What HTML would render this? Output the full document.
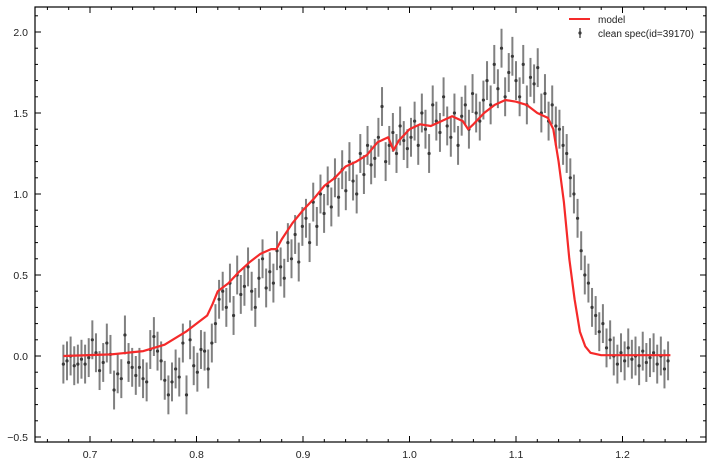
<!DOCTYPE html>
<html><head><meta charset="utf-8"><style>
html,body{margin:0;padding:0;background:#fff;}
svg{display:block;font-family:"Liberation Sans","DejaVu Sans",sans-serif;}
</style></head><body>
<svg id="chart" width="710" height="465"></svg>
<script>
const specValues = [
-0.05,-0.03,0.0,-0.06,-0.05,-0.02,-0.05,-0.01,0.1,0.02,-0.09,-0.04,0.08,0.01,-0.21,-0.11,-0.14,0.13,-0.04,-0.07,-0.12,-0.07,-0.14,-0.16,0.04,0.12,0.03,-0.03,-0.15,-0.24,-0.16,
-0.08,-0.13,0.08,-0.24,0.1,-0.06,-0.1,0.04,0.03,-0.08,0.08,0.2,
0.35,0.4,0.3,0.45,0.25,0.5,0.38,0.43,0.55,0.4,0.3,0.48,0.6,0.42,0.52,0.45,0.65,0.55,0.48,0.7,0.6,0.75,0.58,0.8,
0.85,0.7,0.95,0.8,1.0,0.88,1.05,0.92,1.1,0.98,1.15,1.02,1.2,1.08,1.0,1.25,1.12,1.3,1.18,1.22,1.35,1.54,1.2,1.3,1.38,1.25,1.42,1.33,1.28,
1.35,1.45,1.3,1.5,1.4,1.25,1.55,1.45,1.38,1.6,1.42,1.35,1.5,1.3,1.48,1.55,1.4,1.62,1.5,1.45,1.58,
1.7,1.55,1.8,1.65,1.9,1.6,1.75,1.85,1.7,1.6,1.8,1.55,1.72,1.68,1.78,1.5,1.62,1.45,1.55,
1.42,1.4,1.3,1.25,1.1,1.0,0.85,0.65,0.5,0.45,0.3,0.25,0.15,0.2,0.05,0.1,
0.0,-0.05,0.02,-0.03,0.05,-0.02,0.0,-0.06,0.03,-0.04,-0.01,0.02,-0.05,0.0,-0.08,-0.03];
const specStart = 0.675, specStep = 0.0034, specErr = 0.12;
const modelX = [0.675,0.72,0.75,0.77,0.79,0.80,0.81,0.815,0.82,0.83,0.84,0.85,0.86,0.87,0.875,0.88,0.89,0.9,0.91,0.92,0.93,0.94,0.95,0.96,0.97,0.98,0.985,0.99,1.0,1.01,1.02,1.03,1.04,1.05,1.055,1.06,1.07,1.08,1.09,1.1,1.11,1.12,1.13,1.135,1.14,1.145,1.15,1.155,1.16,1.165,1.17,1.18,1.245];
const modelY = [0,0.01,0.03,0.07,0.15,0.2,0.25,0.32,0.4,0.45,0.52,0.58,0.63,0.66,0.66,0.72,0.82,0.9,0.97,1.05,1.1,1.17,1.2,1.24,1.32,1.35,1.27,1.33,1.4,1.43,1.42,1.45,1.48,1.45,1.4,1.43,1.5,1.55,1.58,1.57,1.55,1.5,1.47,1.4,1.2,0.95,0.6,0.35,0.15,0.06,0.02,0.005,0.005];
const xTicks = [0.7,0.8,0.9,1.0,1.1,1.2];
const yTicks = [-0.5,0.0,0.5,1.0,1.5,2.0];

const NS="http://www.w3.org/2000/svg";
const svg=document.getElementById('chart');
const L=35,R=706,T=7,B=442;
const sx=v=>90+(v-0.7)*1065;
const sy=v=>356-v*162;
function mk(tag,attrs,parent){const e=document.createElementNS(NS,tag);for(const k in attrs)e.setAttribute(k,attrs[k]);(parent||svg).appendChild(e);return e;}

const gErr=mk('g',{});


const gPts=mk('g',{});


specValues.forEach((v,i)=>{
  const x=sx(specStart+i*specStep);
  const l=mk('line',{x1:x,x2:x,y1:sy(v-specErr),y2:sy(v+specErr),stroke:'#808080','stroke-width':2},gErr);
  
  
  const c=mk('circle',{cx:x,cy:sy(v),r:1.6,fill:'#3a3a3a'},gPts);
  
  
});
const d=modelX.map((x,i)=>(i?'L':'M')+sx(x).toFixed(1)+','+sy(modelY[i]).toFixed(1)).join(' ');
const mp=mk('path',{d:d,fill:'none',stroke:'#f52a2a','stroke-width':2.2,'stroke-linejoin':'round'});



const frame=mk('rect',{x:L,y:T,width:R-L,height:B-T,fill:'none',stroke:'#000','stroke-width':1.2});



const ax=mk('g',{stroke:'#000','stroke-width':1});


for(let k=33;k<=63;k++){const v=k/50;const x=sx(v);if(x<L||x>R)continue;const major=k%5==0;const len=major?6:3;
  mk('line',{x1:x,x2:x,y1:B,y2:B-len},ax);mk('line',{x1:x,x2:x,y1:T,y2:T+len},ax);}
for(let k=-5;k<=21;k++){const v=k/10;const y=sy(v);if(y<T||y>B)continue;const major=k%5==0;const len=major?6:3;
  mk('line',{x1:L,x2:L+len,y1:y,y2:y},ax);mk('line',{x1:R,x2:R-len,y1:y,y2:y},ax);}
xTicks.forEach(v=>{const t=mk('text',{x:sx(v),y:B+16,'text-anchor':'middle','font-size':10.5,fill:'#222'});t.textContent=v.toFixed(1);
  
  });
yTicks.forEach(v=>{const t=mk('text',{x:L-7,y:sy(v)+4,'text-anchor':'end','font-size':10.5,fill:'#222'});t.textContent=(v<0?'\u22120.5':v.toFixed(1));
  
  });

const lg=mk('g',{});


mk('line',{x1:569,x2:590,y1:19,y2:19,stroke:'#f52a2a','stroke-width':2},lg);
const t1=mk('text',{x:598,y:23,'font-size':10,fill:'#222'},lg);t1.textContent='model';


mk('line',{x1:580,x2:580,y1:28,y2:38,stroke:'#808080','stroke-width':2},lg);
mk('circle',{cx:580,cy:33,r:1.6,fill:'#3a3a3a'},lg);
const t2=mk('text',{x:598,y:37,'font-size':10,fill:'#222'},lg);t2.textContent='clean spec(id=39170)';


</script>
</body></html>
